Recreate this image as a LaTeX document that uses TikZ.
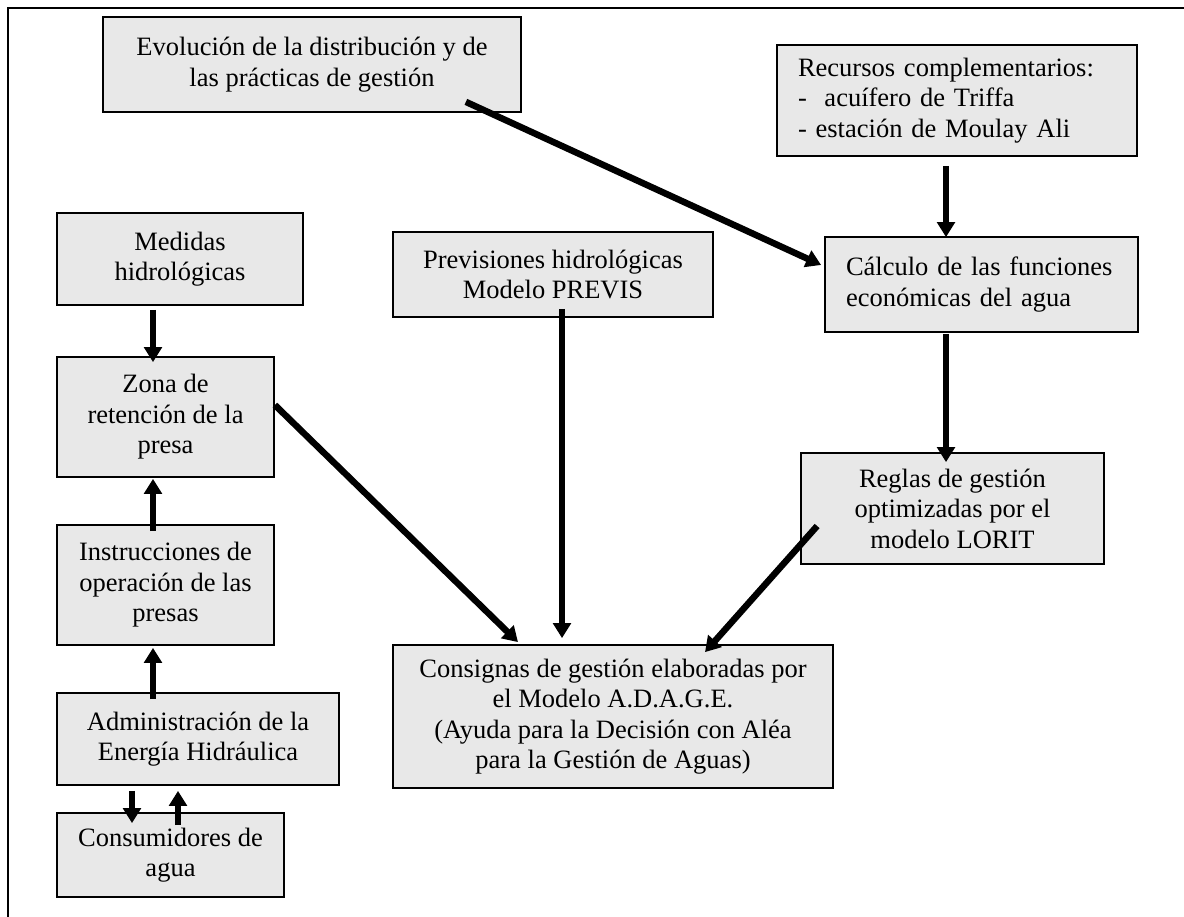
\documentclass[tikz,border=0pt]{standalone}
\usepackage{fontspec}
\setmainfont{Liberation Serif}
\usetikzlibrary{arrows.meta,calc}
\definecolor{boxgray}{HTML}{E8E8E8}
\begin{document}
\begin{tikzpicture}[x=0.4pt,y=-0.4pt,
  box/.style={draw=black,line width=0.7pt,fill=boxgray,inner sep=0pt,align=center,
    font=\fontsize{10.6pt}{12.2pt}\selectfont},
  lbox/.style={box,align=left,inner xsep=8.4pt},
  conn/.style={line width=2.6pt,-{Triangle[length=6pt,width=7pt]}},
  frame/.style={line width=0.8pt}]
\useasboundingbox (0,0) rectangle (1184,917);
\draw[frame] (8,917) -- (8,8) -- (1184,8);

\node[box,minimum width=167.2pt,minimum height=38pt] (evol) at (312,64.5)
  {Evolución de la distribución y de\\las prácticas de gestión};
\node[lbox,text width=127.2pt,minimum height=44.4pt] (rec) at (957,100.5)
  {Recursos complementarios:\\-\ \ acuífero de Triffa\\- estación de Moulay Ali};
\node[lbox,text width=108.4pt,minimum height=38pt] (calcfun) at (981.5,284.5)
  {Cálculo de las funciones\\económicas del agua};
\node[box,minimum width=121.2pt,minimum height=44.4pt] (reglas) at (952.5,508.5)
  {Reglas de gestión\\optimizadas por el\\modelo LORIT};
\node[box,minimum width=128pt,minimum height=34pt] (prev) at (553,274.5)
  {Previsiones hidrológicas\\Modelo PREVIS};
\node[box,minimum width=176pt,minimum height=57.2pt] (cons) at (613,716.5)
  {Consignas de gestión elaboradas por\\el Modelo A.D.A.G.E.\\(Ayuda para la Decisión con Aléa\\para la Gestión de Aguas)};
\node[box,minimum width=98.4pt,minimum height=36.8pt] (med) at (180,259)
  {Medidas\\hidrológicas};
\node[box,minimum width=86.8pt,minimum height=48pt] (zona) at (165.5,417)
  {Zona de\\retención de la\\presa};
\node[box,minimum width=86.8pt,minimum height=48pt] (inst) at (165.5,585)
  {Instrucciones de\\operación de las\\presas};
\node[box,minimum width=112.8pt,minimum height=36.8pt] (adm) at (198,739)
  {Administración de la\\Energía Hidráulica};
\node[box,minimum width=90.8pt,minimum height=33.6pt] (usu) at (170.5,855)
  {Consumidores de\\agua};

\draw[conn] ($(evol.south east)+(-56,-11)$) -- ($(calcfun.west)+(-3,-19.5)$);
\draw[conn] ($(rec.south)+(-11,9)$) -- ($(calcfun.north)+(-35.5,1)$);
\draw[conn] ($(calcfun.south)+(-35.5,1)$) -- ($(reglas.north)+(-6.5,10)$);
\draw[conn] ($(reglas.west)+(17,17.5)$) -- ($(cons.north)+(92,8)$);
\draw[conn] ($(prev.south)+(9,-9)$) -- ($(cons.north)+(-51,-6)$);
\draw[conn] ($(zona.east)+(0,-12)$) -- ($(cons.north)+(-95,-2)$);
\draw[conn] ($(med.south)+(-27,4)$) -- ($(zona.north)+(-12.5,6)$);
\draw[conn] ($(inst.north)+(-12.5,7)$) -- ($(zona.south)+(-12.5,1)$);
\draw[conn] ($(adm.north)+(-45,7)$) -- ($(inst.south)+(-12.5,2)$);
\draw[conn] ($(adm.south)+(-66,5)$) -- ($(usu.north)+(-38.5,11)$);
\draw[conn] ($(usu.north)+(7.5,13)$) -- ($(adm.south)+(-20,5)$);
\end{tikzpicture}
\end{document}
